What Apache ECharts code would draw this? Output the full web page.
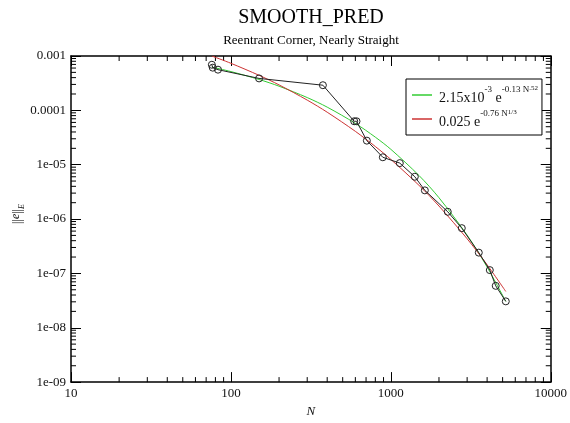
<!DOCTYPE html>
<html><head><meta charset="utf-8">
<script src="https://cdn.jsdelivr.net/npm/echarts@6/dist/echarts.min.js"></script>
<style>html,body{margin:0;padding:0;background:#fff}#c{width:570px;height:423px}</style>
</head><body><div id="c"></div>
<script>
// measured data (black, circles)
const dataN   = [76, 77, 83, 150, 376, 590, 610, 708, 891, 1138, 1413, 1632, 2270, 2778, 3548, 4158, 4528, 5234];
const dataErr = [6.9e-4, 6.1e-4, 5.6e-4, 3.87e-4, 2.9e-4, 6.3e-5, 6.3e-5, 2.77e-5, 1.37e-5, 1.07e-5, 6.0e-6, 3.37e-6, 1.36e-6, 6.8e-7, 2.41e-7, 1.15e-7, 5.9e-8, 3.06e-8];
// fit curves
const fitN     = [76, 100, 150, 200, 300, 400, 600, 800, 1000, 1500, 2000, 3000, 4000, 5234];
const fitGreen = [6.25e-4, 5.17e-4, 3.70e-4, 2.78e-4, 1.72e-4, 1.146e-4, 5.76e-5, 3.21e-5, 1.92e-5, 6.33e-6, 2.47e-6, 5.05e-7, 1.31e-7, 3.05e-8];
const fitRed   = [1.0e-3, 7.34e-4, 4.41e-4, 2.94e-4, 1.544e-4, 9.24e-5, 4.11e-5, 2.16e-5, 1.251e-5, 4.17e-6, 1.736e-6, 4.34e-7, 1.44e-7, 4.65e-8];
const greenName = 'green';
const redName = 'red';
const xTickLabels = ['10', '100', '1000', '10000'];
const yTickLabels = ['1e-09', '1e-08', '1e-07', '1e-06', '1e-05', '0.0001', '0.001'];
const titleText = 'SMOOTH_PRED';
const subtitleText = 'Reentrant Corner, Nearly Straight';
const X_MIN = 10, X_MAX = 10000, Y_MIN = 1e-9, Y_MAX = 1e-3;

const xMinor = [];
for (let e = 1; e <= 3; e++) for (let m = 2; m <= 9; m++) xMinor.push(m * Math.pow(10, e));
const yMinor = [];
for (let e = -9; e <= -4; e++) for (let m = 2; m <= 9; m++) yMinor.push(+(m * Math.pow(10, e)).toPrecision(3));

const FONT = '"Liberation Serif", "DejaVu Serif", serif';
const chart = echarts.init(document.getElementById('c'), null, {renderer: 'canvas'});

function mkX(pos, labels) {
  return {
    type: 'log', logBase: 10, min: X_MIN, max: X_MAX, position: pos,
    axisLine: {show: true, onZero: false, lineStyle: {color: '#000', width: 1.5}},
    axisTick: {show: true, inside: true, length: 10, lineStyle: {color: '#000', width: 1}},
    axisLabel: {show: labels, color: '#111', fontFamily: FONT, fontSize: 13, margin: 5,
      formatter: v => xTickLabels[Math.round(Math.log10(v)) - 1]},
    splitLine: {show: false}, minorTick: {show: false},
    name: labels ? 'N' : '', nameLocation: 'middle', nameGap: 22,
    nameTextStyle: {fontFamily: FONT, fontStyle: 'italic', fontSize: 13, color: '#111'}
  };
}
function mkY(pos, labels) {
  return {
    type: 'log', logBase: 10, min: Y_MIN, max: Y_MAX, position: pos,
    axisLine: {show: true, onZero: false, lineStyle: {color: '#000', width: 1.5}},
    axisTick: {show: true, inside: true, length: 10, lineStyle: {color: '#000', width: 1}},
    axisLabel: {show: labels, color: '#111', fontFamily: FONT, fontSize: 13, margin: 5,
      formatter: v => yTickLabels[Math.round(Math.log10(v)) + 9]},
    splitLine: {show: false}, minorTick: {show: false}
  };
}
const tickStyle = {stroke: '#000', lineWidth: 1};

chart.setOption({
  animation: false,
  backgroundColor: '#fff',
  grid: {left: 71, right: 19, top: 56, bottom: 32, containLabel: false},
  xAxis: [mkX('bottom', true), mkX('top', false)],
  yAxis: [mkY('left', true), mkY('right', false)],
  legend: {
    data: [greenName, redName], orient: 'vertical', left: 406, top: 79,
    backgroundColor: '#fff', borderColor: '#000', borderWidth: 1, borderRadius: 0,
    padding: [6, 4, 6, 6], itemGap: 4, itemWidth: 20, itemHeight: 1.5, icon: 'rect',
    formatter: n => n === greenName
      ? '{b|2.15x10}{s|-3}{b| e}{s|-0.13 N}{s2|.52}'
      : '{b|0.025 e}{s|-0.76 N}{s2|1/3}',
    textStyle: {
      fontFamily: FONT, color: '#111', padding: [0, 0, 0, 2],
      rich: {
        b: {fontFamily: FONT, fontSize: 14, lineHeight: 20, verticalAlign: 'bottom', color: '#111'},
        s: {fontFamily: FONT, fontSize: 9, lineHeight: 13, verticalAlign: 'top', color: '#111'},
        s2: {fontFamily: FONT, fontSize: 7, lineHeight: 8, verticalAlign: 'top', color: '#111'}
      }
    }
  },
  graphic: [
    {type: 'text', x: 311, y: 28, style: {text: titleText, font: '20px ' + FONT, fill: '#000', textAlign: 'center', textVerticalAlign: 'bottom'}},
    {type: 'text', x: 311, y: 47, style: {text: subtitleText, font: '13px ' + FONT, fill: '#000', textAlign: 'center', textVerticalAlign: 'bottom'}},
    {type: 'text', x: 18, y: 214, rotation: Math.PI / 2,
     style: {text: '||{i|e}||{sub|E}', fill: '#111', textAlign: 'center', textVerticalAlign: 'middle',
       font: '12px ' + FONT,
       rich: {
         i: {fontFamily: FONT, fontSize: 12, fontStyle: 'italic', lineHeight: 16, verticalAlign: 'top'},
         sub: {fontFamily: FONT, fontSize: 8, fontStyle: 'italic', lineHeight: 12, verticalAlign: 'bottom'}
       }}}
  ],
  series: [
    {name: 'xminor', type: 'custom', xAxisIndex: 0, yAxisIndex: 0, silent: true, clip: false,
     data: xMinor.map(v => [v, Y_MIN]),
     renderItem: (params, api) => {
       const x = api.coord([api.value(0), Y_MIN])[0];
       const yb = api.coord([X_MIN, Y_MIN])[1], yt = api.coord([X_MIN, Y_MAX])[1];
       return {type: 'group', children: [
         {type: 'line', shape: {x1: x, y1: yb, x2: x, y2: yb - 5}, style: tickStyle},
         {type: 'line', shape: {x1: x, y1: yt, x2: x, y2: yt + 5}, style: tickStyle}]};
     }},
    {name: 'yminor', type: 'custom', xAxisIndex: 0, yAxisIndex: 0, silent: true, clip: false,
     data: yMinor.map(v => [X_MIN, v]),
     renderItem: (params, api) => {
       const y = api.coord([X_MIN, api.value(1)])[1];
       const xl = api.coord([X_MIN, Y_MIN])[0], xr = api.coord([X_MAX, Y_MIN])[0];
       return {type: 'group', children: [
         {type: 'line', shape: {x1: xl, y1: y, x2: xl + 5, y2: y}, style: tickStyle},
         {type: 'line', shape: {x1: xr, y1: y, x2: xr - 5, y2: y}, style: tickStyle}]};
     }},
    {name: greenName, type: 'line', xAxisIndex: 0, yAxisIndex: 0, smooth: 0.3, symbol: 'none',
     lineStyle: {color: '#33cc33', width: 1}, itemStyle: {color: '#33cc33'},
     data: fitN.map((n, i) => [n, fitGreen[i]])},
    {name: redName, type: 'line', xAxisIndex: 0, yAxisIndex: 0, smooth: 0.3, symbol: 'none',
     lineStyle: {color: '#cc3333', width: 1}, itemStyle: {color: '#cc3333'},
     data: fitN.map((n, i) => [n, fitRed[i]])},
    {name: 'data', type: 'line', xAxisIndex: 0, yAxisIndex: 0, symbol: 'circle', symbolSize: 7,
     lineStyle: {color: '#222', width: 1},
     itemStyle: {color: 'rgba(255,255,255,0)', borderColor: '#222', borderWidth: 1},
     data: dataN.map((n, i) => [n, dataErr[i]])}
  ]
});
</script>
</body></html>
